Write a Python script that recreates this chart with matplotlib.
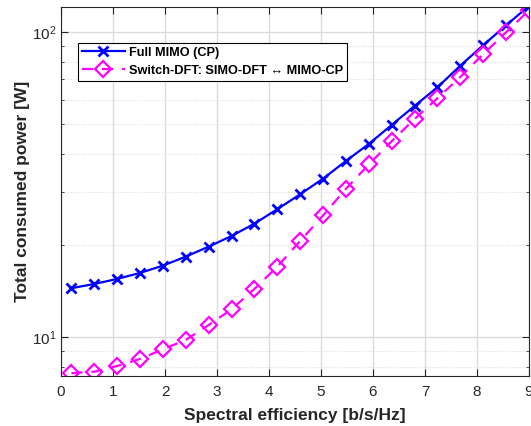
import matplotlib
matplotlib.use("Agg")
import matplotlib.pyplot as plt
from matplotlib.ticker import LogLocator, NullFormatter, FixedLocator

plt.rcParams["font.family"] = ["Liberation Sans", "DejaVu Sans"]

# --- Data ---
se = [0.2, 0.64, 1.08, 1.52, 1.96, 2.4, 2.84, 3.28, 3.72, 4.16, 4.6,
      5.04, 5.48, 5.92, 6.36, 6.8, 7.24, 7.68, 8.12, 8.56, 9.0]

full_mimo = [14.48, 14.95, 15.53, 16.25, 17.17, 18.38, 19.82, 21.48, 23.57,
             26.29, 29.43, 33.11, 37.84, 43.03, 49.67, 57.33, 66.0, 77.7,
             90.7, 105.4, 122.0]
switch_dft = [7.62, 7.71, 8.05, 8.49, 9.13, 9.80, 10.97, 12.35, 14.40,
              17.04, 20.69, 25.07, 30.68, 36.86, 43.92, 51.96, 60.77, 71.36,
              84.76, 100.0, 118.0]

x_ticks = [0, 1, 2, 3, 4, 5, 6, 7, 8, 9]
label_full = "Full MIMO (CP)"
label_switch = "Switch-DFT: SIMO-DFT \u2194 MIMO-CP"

TXT = "#262626"

fig = plt.figure(figsize=(5.31, 4.26), dpi=100)
ax = fig.add_axes([0.1149, 0.1181, 0.8813, 0.8655])

ax.plot(se, full_mimo, "-", color="#0000ff", linewidth=1.6,
        marker="x", markersize=6.5, markeredgewidth=2.0, label=label_full)
ax.plot(se, switch_dft, "--", color="#ff00ff", linewidth=1.6,
        dashes=(5, 4), marker="D", markersize=8.5, markeredgewidth=1.6,
        markerfacecolor="none", label=label_switch)

ax.set_yscale("log")
ax.set_xlim(0, 9)
ax.set_ylim(7.48, 121)
ax.xaxis.set_major_locator(FixedLocator(x_ticks))
ax.yaxis.set_major_locator(LogLocator(base=10))
ax.yaxis.set_minor_locator(LogLocator(base=10, subs=range(2, 10)))
ax.yaxis.set_minor_formatter(NullFormatter())

ax.grid(True, which="major", color="#dcdcdc", linewidth=1.0, linestyle="-")
ax.grid(True, which="minor", axis="y", color="#dcdcdc", linewidth=0.8,
        linestyle=":")
ax.set_axisbelow(True)

ax.tick_params(which="both", direction="in", top=True, right=True,
               colors=TXT, labelsize=11, length=5)
ax.tick_params(axis="x", pad=7)
ax.tick_params(which="minor", length=2.5)
for s in ax.spines.values():
    s.set_color(TXT)
    s.set_linewidth(0.8)

ax.set_xlabel("Spectral efficiency [b/s/Hz]", fontsize=12.5,
              fontweight="bold", color=TXT, labelpad=6)
ax.set_ylabel("Total consumed power [W]", fontsize=12.5,
              fontweight="bold", color=TXT, labelpad=1)

leg = ax.legend(loc="upper left", bbox_to_anchor=(0.037, 0.903),
                fancybox=False, framealpha=1, edgecolor="black",
                borderaxespad=0, handlelength=3.3, borderpad=0.32,
                labelspacing=0.45, handletextpad=0.35,
                prop={"weight": "bold", "size": 9.2})
leg.get_frame().set_linewidth(0.8)

fig.savefig("out.png", dpi=100)
